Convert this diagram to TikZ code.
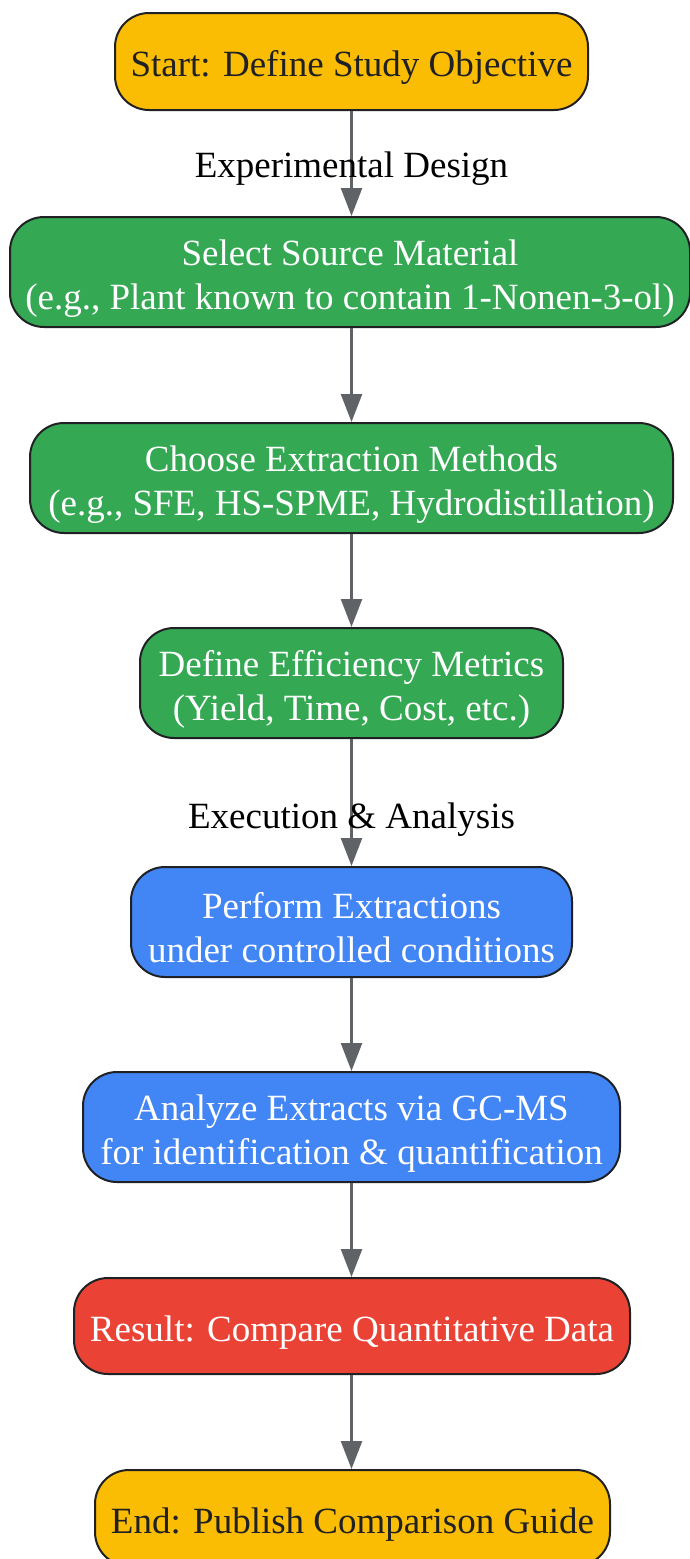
\documentclass[tikz,border=0pt]{standalone}
\usepackage{fontspec}
\setmainfont{Liberation Serif}
\usetikzlibrary{arrows.meta}
\definecolor{cyellow}{HTML}{FBBC04}
\definecolor{cgreen}{HTML}{34A853}
\definecolor{cblue}{HTML}{4285F4}
\definecolor{cred}{HTML}{EA4335}
\definecolor{cborder}{HTML}{202124}
\definecolor{cedge}{HTML}{5F6368}
\newcommand{\upstrut}{\rule{0pt}{38pt}}
\tikzset{
  box/.style={draw=cborder, line width=2pt, rounded corners=34pt, inner sep=0pt,
    align=center, font=\fontsize{37}{44}\selectfont},
  ybox/.style={box, fill=cyellow, text=cborder},
  gbox/.style={box, fill=cgreen, text=white},
  bbox/.style={box, fill=cblue, text=white},
  rbox/.style={box, fill=cred, text=white},
  flow/.style={draw=cedge, line width=2.5pt, -{Triangle[length=28pt,width=21pt]}},
  elabel/.style={text=black, font=\fontsize{37}{44}\selectfont, inner sep=0pt, yshift=-4pt}
}
\begin{document}
\begin{tikzpicture}[x=1pt,y=-1pt]
\useasboundingbox (0,0) rectangle (689,1559);
\node[ybox, minimum width=473pt, minimum height=97pt] (start) at (351.5,61.5) {\upstrut Start: Define Study Objective};
\node[gbox, minimum width=680pt, minimum height=110pt] (select) at (350,272) {\upstrut Select Source Material\\(e.g., Plant known to contain 1-Nonen-3-ol)};
\node[gbox, minimum width=643pt, minimum height=110pt] (choose) at (351.5,478) {\upstrut Choose Extraction Methods\\(e.g., SFE, HS-SPME, Hydrodistillation)};
\node[gbox, minimum width=423pt, minimum height=110pt] (define) at (351.5,683) {\upstrut Define Efficiency Metrics\\(Yield, Time, Cost, etc.)};
\node[bbox, minimum width=441pt, minimum height=110pt] (perform) at (351.5,922) {\upstrut Perform Extractions\\under controlled conditions};
\node[bbox, minimum width=537pt, minimum height=110pt] (analyze) at (351.5,1127) {\upstrut Analyze Extracts via GC-MS\\for identification \& quantification};
\node[rbox, minimum width=556pt, minimum height=96pt] (result) at (352,1326) {\upstrut Result: Compare Quantitative Data};
\node[ybox, minimum width=515pt, minimum height=96pt] (end) at (352.5,1518) {\upstrut End: Publish Comparison Guide};

\draw[flow] (start.south) -- node[elabel, pos=0.51] (l1) {Experimental Design} (select.north -| start.south);
\draw[flow] (select.south -| start.south) -- (choose.north -| start.south);
\draw[flow] (choose.south) -- (define.north);
\draw[flow] (define.south) -- node[elabel, pos=0.6] (l2) {Execution \& Analysis} (perform.north);
\draw[flow] (perform.south) -- (analyze.north);
\draw[flow] (analyze.south) -- (result.north -| analyze.south);
\draw[flow] (result.south -| analyze.south) -- (end.north -| analyze.south);
\end{tikzpicture}
\end{document}
